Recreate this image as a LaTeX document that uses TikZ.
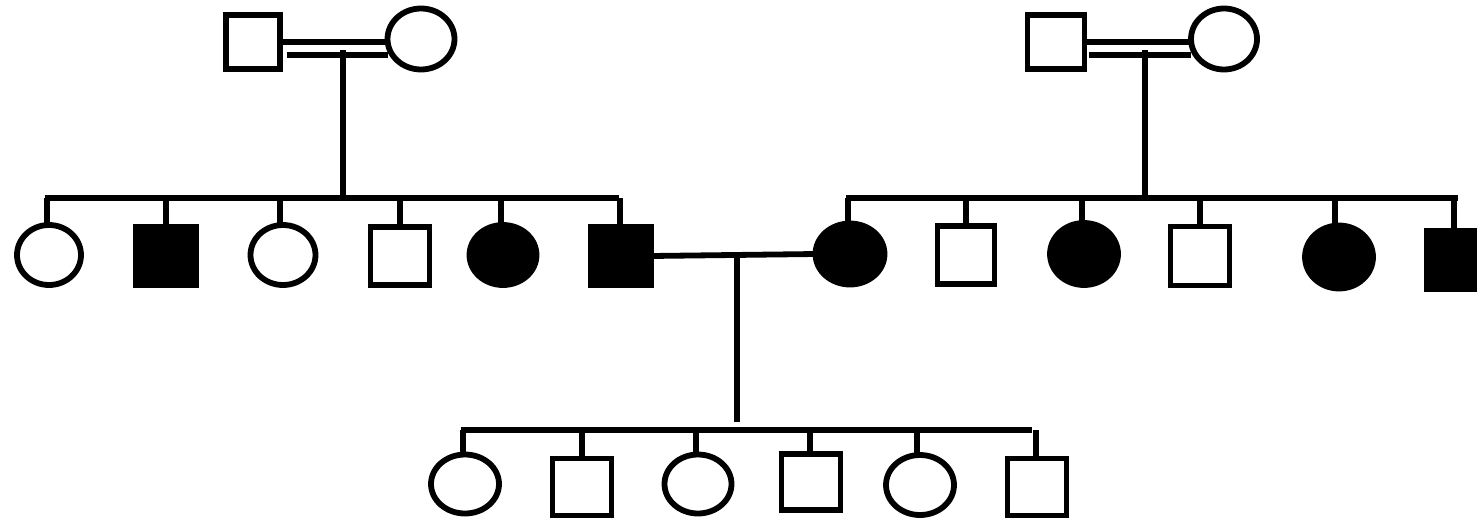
\documentclass[tikz,border=0pt]{standalone}
\usetikzlibrary{shapes.geometric}
\begin{document}
\begin{tikzpicture}[x=1pt,y=-1pt,
  lw/.style={line width=5.8pt},
  person/.style={draw, lw, inner sep=0pt, outer sep=0pt},
  male/.style={person, rectangle, minimum width=60pt, minimum height=59pt},
  female/.style={person, ellipse, minimum width=68pt, minimum height=62pt},
  aff/.style={fill=black},
  conn/.style={lw, line cap=butt, line join=miter}]
\useasboundingbox (0,0) rectangle (1477,520);
\clip (0,0) rectangle (1477,520);
% generation I
\node[male, minimum width=54pt, minimum height=54pt] (LM) at (253,42) {};
\node[female, minimum width=67pt, minimum height=61pt] (LF) at (421,39) {};
\node[male, minimum width=57pt, minimum height=54pt] (RM) at (1056,42) {};
\node[female, minimum width=66pt, minimum height=61pt] (RF) at (1224,39) {};
% generation II left
\node[female, minimum width=64pt, minimum height=60pt] (L1) at (49,255) {};
\node[male, aff, minimum width=60pt, minimum height=59pt] (L2) at (166,256) {};
\node[female, minimum width=65pt, minimum height=60pt] (L3) at (283,255) {};
\node[male, minimum width=59pt, minimum height=58pt] (L4) at (400,256) {};
\node[female, aff, minimum width=67pt, minimum height=60pt] (L5) at (503,255) {};
\node[male, aff, minimum width=60pt, minimum height=59pt] (L6) at (621,256) {};
% generation II right
\node[female, aff, minimum width=69pt, minimum height=61pt] (R1) at (850,254) {};
\node[male, minimum width=57pt, minimum height=58pt] (R2) at (966,255) {};
\node[female, aff, minimum width=68pt, minimum height=62pt] (R3) at (1084,254) {};
\node[male, minimum width=59pt, minimum height=59pt] (R4) at (1200,256) {};
\node[female, aff, minimum width=68pt, minimum height=63pt] (R5) at (1339,257) {};
\node[male, aff, minimum width=59pt, minimum height=58pt] (R6) at (1456,260) {};
% generation III
\node[female, minimum width=68pt, minimum height=59pt] (C1) at (465,484) {};
\node[male, minimum width=59pt, minimum height=57pt] (C2) at (582,487) {};
\node[female, minimum width=67pt, minimum height=59pt] (C3) at (698,484) {};
\node[male, minimum width=59pt, minimum height=56pt] (C4) at (811,482) {};
\node[female, minimum width=68pt, minimum height=60pt] (C5) at (920,485) {};
\node[male, minimum width=59pt, minimum height=57pt] (C6) at (1037,487) {};
% helper coordinates
\coordinate (mL) at (343,50);
\coordinate (mR) at (1145,50);
\coordinate (sL) at (0,198);
\coordinate (sR) at (0,198);
\coordinate (mC) at (737,257);
\coordinate (dC) at (737,422);
\coordinate (sC) at (0,430);
% consanguineous marriages (double lines)
\draw[conn] (LM.east) -- (LM.east -| LF.west);
\draw[conn] ([shift={(7,13)}]LM.east) -- ([yshift=-13pt]LM.east -| LF.west);
\draw[conn] (RM.east) -- (RM.east -| RF.west);
\draw[conn] ([shift={(4,13)}]RM.east) -- ([yshift=-13pt]RM.east -| RF.west);
% descent lines
\draw[conn] (mL) -- (mL |- sL);
\draw[conn] (mR) -- (mR |- sR);
% sibships generation II
\draw[conn] ([xshift=-4.5pt]L1.north |- sL) -- ([xshift=-2.5pt]L6.north |- sL);
\foreach \n/\dx in {L1/-2,L2/0,L3/-3,L4/0,L5/-2,L6/-1}
  \draw[conn] ([xshift=\dx pt]\n.north) -- ([xshift=\dx pt]\n.north |- sL);
\draw[conn] ([xshift=-4.5pt]R1.north |- sR) -- ([xshift=1.5pt]R6.north |- sR);
\foreach \n/\dx in {R1/-2,R2/0,R3/-2,R4/0,R5/-4,R6/-2}
  \draw[conn] ([xshift=\dx pt]\n.north) -- ([xshift=\dx pt]\n.north |- sR);
% marriage of affected II-6 and II-7
\draw[conn] (L6.east) -- (R1.west);
\draw[conn] (mC) -- (dC);
% sibship generation III
\draw[conn] ([xshift=-4.5pt]C1.north |- sC) -- ([xshift=-5pt]C6.north |- sC);
\foreach \n/\dx in {C1/-2,C2/0,C3/-2,C4/-1,C5/-3,C6/-1}
  \draw[conn] ([xshift=\dx pt]\n.north) -- ([xshift=\dx pt]\n.north |- sC);
\end{tikzpicture}
\end{document}
